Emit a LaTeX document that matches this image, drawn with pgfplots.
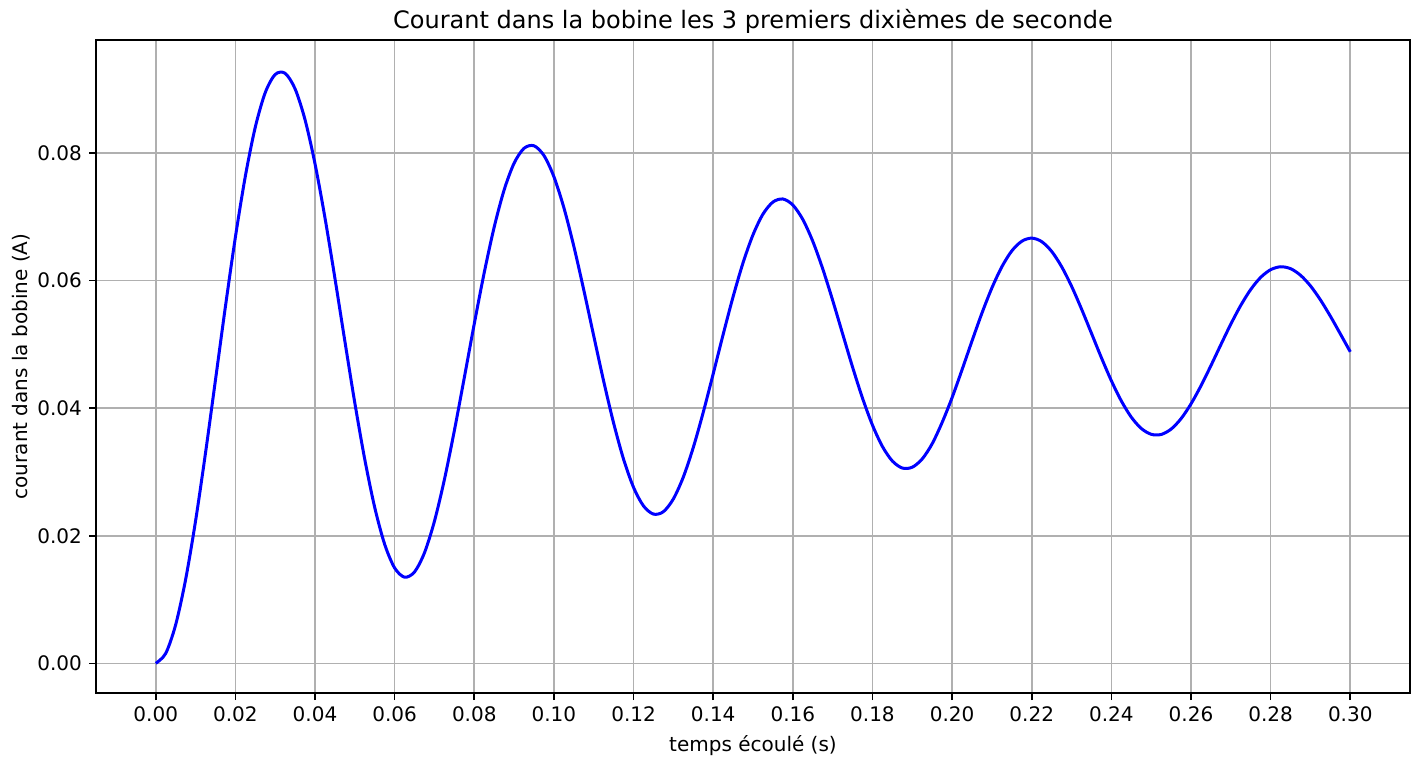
\documentclass[border=0pt]{standalone}
\usepackage{fontspec}
\setmainfont{DejaVu Sans}
\usepackage{pgfplots}
\pgfplotsset{compat=1.18}
\usepackage{pgfplotstable}

\definecolor{gridgray}{RGB}{176,176,176}
\definecolor{curveblue}{RGB}{0,0,255}

% courant i(t) dans la bobine, t en s, i en A
\pgfplotstableread{
t i
0.0000 0.00000
0.0025 0.00155
0.0050 0.00603
0.0075 0.01312
0.0100 0.02230
0.0125 0.03296
0.0150 0.04440
0.0175 0.05591
0.0200 0.06677
0.0225 0.07633
0.0250 0.08403
0.0275 0.08945
0.0300 0.09230
0.0325 0.09248
0.0350 0.09004
0.0375 0.08520
0.0400 0.07831
0.0425 0.06985
0.0450 0.06037
0.0475 0.05049
0.0500 0.04082
0.0525 0.03196
0.0550 0.02443
0.0575 0.01865
0.0600 0.01495
0.0625 0.01350
0.0650 0.01433
0.0675 0.01734
0.0700 0.02228
0.0725 0.02881
0.0750 0.03648
0.0775 0.04479
0.0800 0.05322
0.0825 0.06124
0.0850 0.06837
0.0875 0.07420
0.0900 0.07839
0.0925 0.08073
0.0950 0.08112
0.0975 0.07959
0.1000 0.07627
0.1025 0.07142
0.1050 0.06537
0.1075 0.05852
0.1100 0.05132
0.1125 0.04421
0.1150 0.03764
0.1175 0.03198
0.1200 0.02758
0.1225 0.02467
0.1250 0.02339
0.1275 0.02377
0.1300 0.02577
0.1325 0.02920
0.1350 0.03383
0.1375 0.03934
0.1400 0.04537
0.1425 0.05154
0.1450 0.05746
0.1475 0.06278
0.1500 0.06717
0.1525 0.07041
0.1550 0.07230
0.1575 0.07278
0.1600 0.07184
0.1625 0.06958
0.1650 0.06617
0.1675 0.06185
0.1700 0.05691
0.1725 0.05166
0.1750 0.04644
0.1775 0.04157
0.1800 0.03734
0.1825 0.03399
0.1850 0.03171
0.1875 0.03061
0.1900 0.03074
0.1925 0.03204
0.1950 0.03442
0.1975 0.03776
0.2000 0.04165
0.2025 0.04602
0.2050 0.05053
0.2075 0.05490
0.2100 0.05885
0.2125 0.06216
0.2150 0.06465
0.2175 0.06616
0.2200 0.06665
0.2225 0.06610
0.2250 0.06457
0.2275 0.06218
0.2300 0.05911
0.2325 0.05554
0.2350 0.05173
0.2375 0.04790
0.2400 0.04429
0.2425 0.04113
0.2450 0.03859
0.2475 0.03682
0.2500 0.03590
0.2525 0.03587
0.2550 0.03671
0.2575 0.03835
0.2600 0.04067
0.2625 0.04350
0.2650 0.04666
0.2675 0.04995
0.2700 0.05317
0.2725 0.05611
0.2750 0.05860
0.2775 0.06050
0.2800 0.06170
0.2825 0.06216
0.2850 0.06186
0.2875 0.06083
0.2900 0.05916
0.2925 0.05697
0.2950 0.05441
0.2975 0.05164
0.3000 0.04883
}\courant

\begin{document}
\begin{tikzpicture}
\begin{axis}[
  scale only axis,
  width=657pt, height=326.5pt,
  xmin=-0.015, xmax=0.315,
  ymin=-0.00465, ymax=0.0977,
  xtick={0,0.02,0.04,0.06,0.08,0.10,0.12,0.14,0.16,0.18,0.20,0.22,0.24,0.26,0.28,0.30},
  ytick={0,0.02,0.04,0.06,0.08},
  scaled x ticks=false, scaled y ticks=false,
  /pgf/number format/assume math mode=true,
  xticklabel style={/pgf/number format/.cd, fixed, fixed zerofill, precision=2},
  yticklabel style={/pgf/number format/.cd, fixed, fixed zerofill, precision=2},
  tick align=outside,
  tick pos=left,
  major tick length=3.5pt,
  tick style={black, line width=0.8pt},
  grid=major,
  major grid style={gridgray, line width=0.8pt},
  axis line style={black, line width=0.8pt},
  tick label style={font=\fontsize{10}{12}\selectfont},
  label style={font=\fontsize{10}{12}\selectfont},
  title={Courant dans la bobine les 3 premiers dixièmes de seconde},
  title style={font=\fontsize{12}{14}\selectfont, at={(0.5,1)}, anchor=base,
    inner sep=0pt, yshift=0pt},
  xlabel={temps écoulé (s)},
  ylabel={courant dans la bobine (A)},
  ylabel shift=-3pt,
]
\addplot[curveblue, line width=1.5pt, smooth] table[x=t, y=i]{\courant};
\end{axis}
\path ([shift={(-48pt,-32.5pt)}]current axis.south west)
  rectangle ([shift={(4.5pt,20pt)}]current axis.north east);
\end{tikzpicture}
\end{document}
